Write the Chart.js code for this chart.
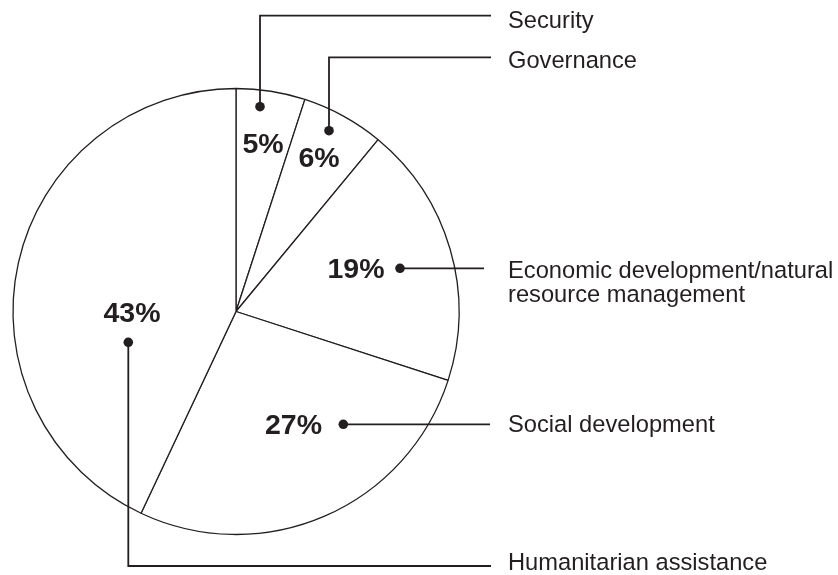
<!DOCTYPE html>
<html>
<head>
<meta charset="utf-8">
<script src="https://cdn.jsdelivr.net/npm/chart.js@4.4.1/dist/chart.umd.min.js"></script>
<style>
    body { margin: 0; background: #ffffff; }
    canvas { display: block; }
</style>
</head>
<body>
<canvas id="myChart" width="838" height="575"></canvas>
<script>
// data (clockwise from 12 o'clock)
const categories = ['Security', 'Governance', 'Economic development/natural resource management', 'Social development', 'Humanitarian assistance']
const shares = [5, 6, 19, 27, 43]
const label_lines = [['Security'], ['Governance'], ['Economic development/natural', 'resource management'], ['Social development'], ['Humanitarian assistance']]

const ink = '#231f20'

// where the % text, the dot and the leader go, offsets from pie centre in px
const callouts = [
    { pct: [27, -167.5], dot: [24, -204.8], bend_y: 15.7, line_end: 491, text_y: [28] },
    { pct: [83, -153.5], dot: [93, -180.8], bend_y: 57.3, line_end: 491, text_y: [68] },
    { pct: [120, -42.5], dot: [164, -43.2], bend_y: null, line_end: 484, text_y: [278, 302] },
    { pct: [57.5, 114], dot: [107.3, 112.8], bend_y: null, line_end: 490, text_y: [432] },
    { pct: [-104, 1.5], dot: [-107.7, 30.8], bend_y: 566, line_end: 491, text_y: [570] }
]

// draws the % values, the dots, the leader lines and the names on the right
const callout_plugin = {
    id: 'callouts',
    afterDraw(chart) {
        const ctx = chart.ctx
        const meta = chart.getDatasetMeta(0)
        ctx.save()
        meta.data.forEach((arc, i) => {
            const c = callouts[i]
            const cx = arc.x
            const cy = arc.y

            // percent value
            ctx.fillStyle = ink
            ctx.font = 'bold 28.5px "Liberation Sans", Arial, sans-serif'
            ctx.textAlign = 'center'
            ctx.textBaseline = 'middle'
            ctx.fillText(shares[i] + '%', cx + c.pct[0], cy + c.pct[1] + 1)

            // dot
            const dx = cx + c.dot[0]
            const dy = cy + c.dot[1]
            ctx.beginPath()
            ctx.arc(dx, dy, 4.8, 0, Math.PI * 2)
            ctx.fill()

            // leader line
            ctx.strokeStyle = ink
            ctx.lineWidth = 1.8
            ctx.beginPath()
            ctx.moveTo(dx, dy)
            if (c.bend_y !== null) {
                ctx.lineTo(dx, c.bend_y)
                ctx.lineTo(c.line_end, c.bend_y)
            } else {
                ctx.lineTo(c.line_end, dy)
            }
            ctx.stroke()

            // category name
            ctx.font = '23.7px "Liberation Sans", Arial, sans-serif'
            ctx.textAlign = 'left'
            ctx.textBaseline = 'alphabetic'
            label_lines[i].forEach((txt, k) => {
                ctx.fillText(txt, 508, c.text_y[k])
            })
        })
        ctx.restore()
    }
}

const ctx = document.getElementById('myChart').getContext('2d')
const myChart = new Chart(ctx, {
    type: 'pie',
    data: {
        labels: categories,
        datasets: [{
            data: shares,
            backgroundColor: '#ffffff',
            borderColor: ink,
            borderWidth: 1.3,
            radius: 223
        }]
    },
    options: {
        responsive: false,
        animation: false,
        layout: { padding: { left: 11, top: 87, right: 377, bottom: 39 } },
        plugins: {
            legend: { display: false },
            tooltip: { enabled: false }
        }
    },
    plugins: [callout_plugin]
})
</script>
</body>
</html>
